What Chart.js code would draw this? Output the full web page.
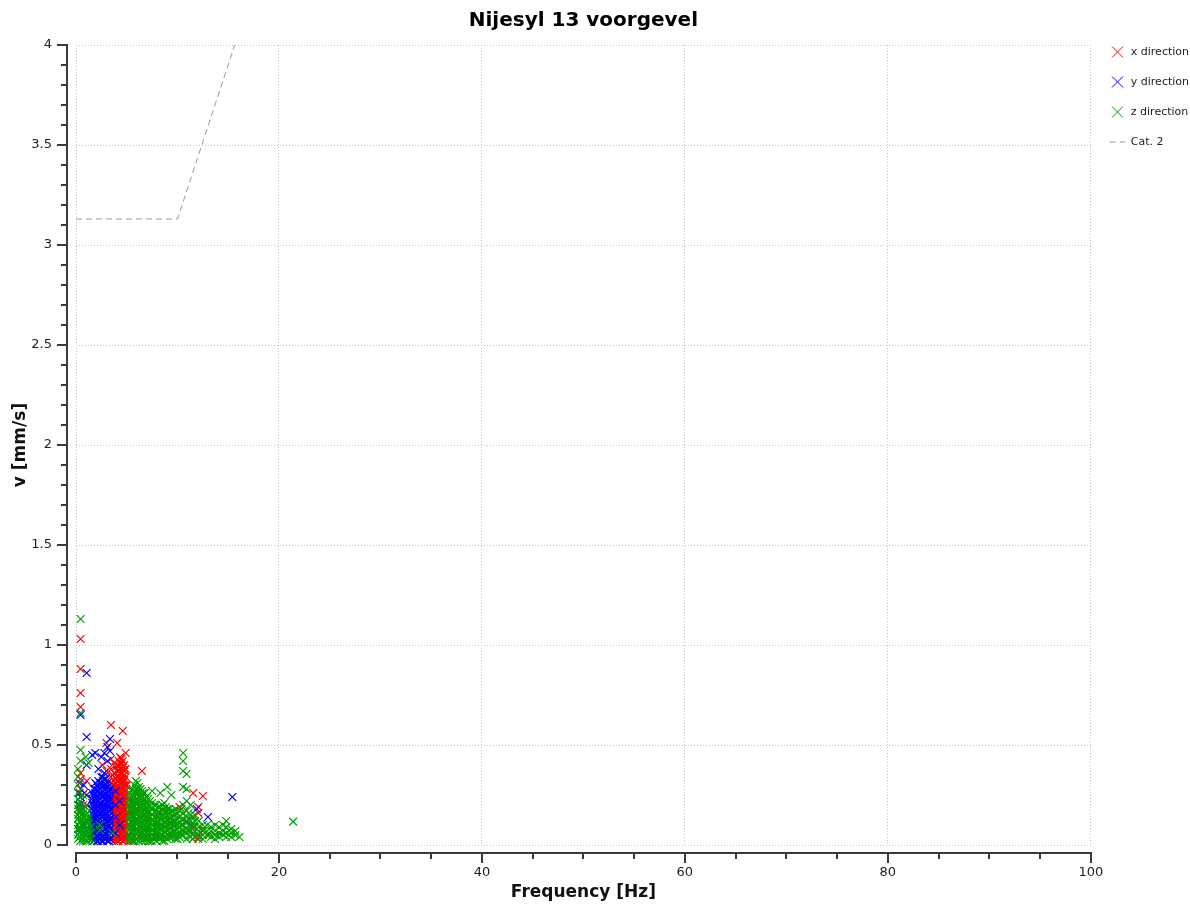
<!DOCTYPE html>
<html lang="nl">
<head>
<meta charset="UTF-8">
<title>Nijesyl 13 voorgevel</title>
<script src="https://cdn.jsdelivr.net/npm/chart.js"></script>
<style>
  body { margin: 0; background: #fff; }
  canvas { display: block; }
</style>
</head>
<body>
<canvas id="chart" width="1190" height="905"></canvas>
<script>
// each row: [frequency Hz, [velocities mm/s at that frequency]]
const xDirection = [
  [0.45, [1.03, 0.88, 0.76, 0.69, 0.36, 0.33, 0.28, 0.24, 0.18, 0.12]],
  [0.8, [0.26, 0.14, 0.06]],
  [1.05, [0.32, 0.2]],
  [1.7, [0.12, 0.06]],
  [2.6, [0.4, 0.18]],
  [3.0, [0.51, 0.37, 0.3, 0.22, 0.12]],
  [3.45, [0.6, 0.43, 0.38, 0.34, 0.31, 0.28, 0.25, 0.22, 0.2, 0.17, 0.14, 0.12, 0.09, 0.06, 0.03]],
  [3.6, [0.35, 0.29, 0.26, 0.235, 0.21, 0.185, 0.16, 0.135, 0.11, 0.085, 0.06, 0.035]],
  [3.75, [0.41, 0.36, 0.32, 0.3, 0.27, 0.25, 0.22, 0.2, 0.17, 0.15, 0.12, 0.1, 0.07, 0.05, 0.02]],
  [3.9, [0.39, 0.335, 0.31, 0.285, 0.26, 0.235, 0.21, 0.185, 0.16, 0.135, 0.11, 0.085, 0.06, 0.035]],
  [4.05, [0.51, 0.4, 0.37, 0.34, 0.32, 0.29, 0.27, 0.24, 0.22, 0.19, 0.17, 0.14, 0.12, 0.09, 0.07, 0.04, 0.02]],
  [4.2, [0.42, 0.395, 0.37, 0.345, 0.32, 0.295, 0.27, 0.245, 0.22, 0.195, 0.17, 0.145, 0.12, 0.095, 0.07, 0.045, 0.02]],
  [4.35, [0.44, 0.41, 0.38, 0.36, 0.33, 0.31, 0.28, 0.26, 0.23, 0.21, 0.18, 0.16, 0.13, 0.11, 0.08, 0.06, 0.03]],
  [4.48, [0.43, 0.405, 0.38, 0.355, 0.33, 0.305, 0.28, 0.255, 0.23, 0.205, 0.18, 0.155, 0.13, 0.105, 0.08, 0.055, 0.03]],
  [4.6, [0.57, 0.42, 0.39, 0.36, 0.34, 0.31, 0.29, 0.26, 0.24, 0.21, 0.19, 0.16, 0.14, 0.11, 0.09, 0.06, 0.04, 0.02]],
  [4.75, [0.4, 0.375, 0.35, 0.325, 0.3, 0.275, 0.25, 0.225, 0.2, 0.175, 0.15, 0.125, 0.1, 0.075, 0.05, 0.025]],
  [4.9, [0.46, 0.38, 0.34, 0.3, 0.27, 0.24, 0.21, 0.18, 0.15, 0.12, 0.09, 0.06, 0.03]],
  [5.05, [0.3, 0.25, 0.2, 0.15, 0.1, 0.05]],
  [5.2, [0.22, 0.16, 0.1, 0.05, 0.02]],
  [6.5, [0.37]],
  [7.3, [0.11]],
  [8.1, [0.16]],
  [9.3, [0.13]],
  [10.2, [0.19]],
  [11.55, [0.26, 0.09]],
  [12.05, [0.19, 0.16, 0.05, 0.03]],
  [12.5, [0.245, 0.07]],
  [13.1, [0.05]]
];
const yDirection = [
  [0.35, [0.31, 0.26, 0.2, 0.14, 0.08]],
  [0.45, [0.65, 0.24]],
  [0.75, [0.3, 0.18, 0.1]],
  [1.05, [0.86, 0.54, 0.4, 0.25]],
  [1.6, [0.45, 0.26, 0.23, 0.21, 0.18, 0.16, 0.13, 0.11, 0.08, 0.06, 0.03]],
  [1.75, [0.28, 0.245, 0.22, 0.195, 0.17, 0.145, 0.12, 0.095, 0.07, 0.045, 0.02]],
  [1.9, [0.46, 0.31, 0.28, 0.26, 0.23, 0.21, 0.18, 0.16, 0.13, 0.11, 0.08, 0.06, 0.03]],
  [2.05, [0.3, 0.27, 0.245, 0.22, 0.195, 0.17, 0.145, 0.12, 0.095, 0.07, 0.045, 0.02]],
  [2.2, [0.38, 0.32, 0.29, 0.27, 0.24, 0.22, 0.19, 0.17, 0.14, 0.12, 0.09, 0.07, 0.04, 0.02]],
  [2.35, [0.31, 0.28, 0.255, 0.23, 0.205, 0.18, 0.155, 0.13, 0.105, 0.08, 0.055, 0.03]],
  [2.5, [0.44, 0.34, 0.31, 0.29, 0.26, 0.24, 0.21, 0.19, 0.16, 0.14, 0.11, 0.09, 0.06, 0.04, 0.02]],
  [2.65, [0.34, 0.32, 0.295, 0.27, 0.245, 0.22, 0.195, 0.17, 0.145, 0.12, 0.095, 0.07, 0.045, 0.02]],
  [2.8, [0.46, 0.36, 0.33, 0.3, 0.28, 0.25, 0.23, 0.2, 0.18, 0.15, 0.13, 0.1, 0.08, 0.05, 0.03]],
  [2.95, [0.33, 0.305, 0.28, 0.255, 0.23, 0.205, 0.18, 0.155, 0.13, 0.105, 0.08, 0.055, 0.03]],
  [3.1, [0.49, 0.42, 0.31, 0.29, 0.26, 0.24, 0.21, 0.19, 0.16, 0.14, 0.11, 0.09, 0.06, 0.04, 0.02]],
  [3.25, [0.27, 0.245, 0.22, 0.195, 0.17, 0.145, 0.12, 0.095, 0.07, 0.045, 0.02]],
  [3.35, [0.53, 0.47, 0.28, 0.23, 0.18, 0.13, 0.08, 0.03]],
  [3.9, [0.27, 0.2, 0.14, 0.06]],
  [4.3, [0.22, 0.1]],
  [6.6, [0.08]],
  [8.0, [0.09]],
  [9.4, [0.11]],
  [10.9, [0.12]],
  [11.9, [0.18]],
  [13.0, [0.14]],
  [15.4, [0.24]]
];
const zDirection = [
  [0.2, [0.38, 0.34, 0.3, 0.26, 0.23, 0.2, 0.18, 0.15, 0.13, 0.1, 0.08, 0.05, 0.03]],
  [0.35, [0.215, 0.19, 0.165, 0.14, 0.115, 0.09, 0.065, 0.04]],
  [0.45, [1.13, 0.66, 0.475, 0.42, 0.17, 0.12, 0.07, 0.02]],
  [0.6, [0.185, 0.15, 0.125, 0.1, 0.075, 0.05, 0.03]],
  [0.7, [0.25, 0.2, 0.16, 0.14, 0.11, 0.09, 0.06, 0.04, 0.02]],
  [0.95, [0.44, 0.19, 0.15, 0.12, 0.1, 0.07, 0.05, 0.02]],
  [1.1, [0.16, 0.13, 0.09, 0.065, 0.04, 0.02]],
  [1.25, [0.41, 0.14, 0.11, 0.08, 0.06, 0.03]],
  [1.5, [0.09, 0.06, 0.03]],
  [2.35, [0.1, 0.075]],
  [3.6, [0.06]],
  [5.3, [0.26, 0.23, 0.2, 0.18, 0.15, 0.13, 0.1, 0.08, 0.05, 0.03]],
  [5.45, [0.27, 0.24, 0.215, 0.19, 0.165, 0.14, 0.115, 0.09, 0.065, 0.04, 0.02]],
  [5.6, [0.28, 0.25, 0.22, 0.2, 0.17, 0.15, 0.12, 0.1, 0.07, 0.05, 0.02]],
  [5.75, [0.3, 0.265, 0.24, 0.215, 0.19, 0.165, 0.14, 0.115, 0.09, 0.065, 0.04, 0.02]],
  [5.9, [0.32, 0.28, 0.26, 0.23, 0.21, 0.18, 0.16, 0.13, 0.11, 0.08, 0.06, 0.03]],
  [6.05, [0.31, 0.28, 0.255, 0.23, 0.205, 0.18, 0.155, 0.13, 0.105, 0.08, 0.055, 0.03]],
  [6.2, [0.29, 0.27, 0.24, 0.22, 0.19, 0.17, 0.14, 0.12, 0.09, 0.07, 0.04, 0.02]],
  [6.35, [0.28, 0.255, 0.23, 0.205, 0.18, 0.155, 0.13, 0.105, 0.08, 0.055, 0.03]],
  [6.5, [0.27, 0.24, 0.21, 0.19, 0.16, 0.14, 0.11, 0.09, 0.06, 0.04, 0.02]],
  [6.65, [0.26, 0.225, 0.2, 0.175, 0.15, 0.125, 0.1, 0.075, 0.05, 0.03]],
  [6.8, [0.26, 0.23, 0.2, 0.17, 0.15, 0.12, 0.1, 0.07, 0.05, 0.02]],
  [6.95, [0.24, 0.215, 0.19, 0.165, 0.14, 0.115, 0.09, 0.065, 0.04]],
  [7.1, [0.23, 0.2, 0.17, 0.14, 0.12, 0.09, 0.07, 0.04, 0.02]],
  [7.3, [0.22, 0.19, 0.165, 0.14, 0.115, 0.09, 0.065, 0.04, 0.02]],
  [7.5, [0.27, 0.21, 0.18, 0.15, 0.12, 0.1, 0.07, 0.05, 0.02]],
  [7.7, [0.2, 0.165, 0.14, 0.115, 0.09, 0.065, 0.04]],
  [7.9, [0.2, 0.17, 0.14, 0.11, 0.09, 0.06, 0.04, 0.02]],
  [8.1, [0.19, 0.165, 0.14, 0.115, 0.09, 0.065, 0.04]],
  [8.3, [0.26, 0.19, 0.16, 0.13, 0.1, 0.08, 0.05, 0.03]],
  [8.5, [0.2, 0.175, 0.15, 0.125, 0.1, 0.075, 0.05, 0.02]],
  [8.7, [0.21, 0.18, 0.15, 0.12, 0.09, 0.07, 0.04, 0.02]],
  [8.85, [0.19, 0.165, 0.14, 0.115, 0.09, 0.065, 0.04]],
  [9.0, [0.29, 0.18, 0.15, 0.12, 0.1, 0.07, 0.05, 0.03]],
  [9.2, [0.18, 0.16, 0.135, 0.11, 0.085, 0.06, 0.04]],
  [9.4, [0.25, 0.17, 0.14, 0.11, 0.09, 0.06, 0.04]],
  [9.6, [0.17, 0.145, 0.12, 0.095, 0.07, 0.045]],
  [9.8, [0.18, 0.15, 0.12, 0.1, 0.07, 0.05, 0.03]],
  [10.0, [0.16, 0.13, 0.105, 0.08, 0.055, 0.03]],
  [10.2, [0.17, 0.14, 0.11, 0.09, 0.06, 0.04]],
  [10.4, [0.18, 0.125, 0.1, 0.075, 0.05]],
  [10.55, [0.46, 0.42, 0.37, 0.29, 0.2, 0.16, 0.13, 0.1, 0.07, 0.05]],
  [10.9, [0.355, 0.28, 0.22, 0.17, 0.14, 0.11, 0.08, 0.06, 0.03]],
  [11.1, [0.16, 0.13, 0.1, 0.075, 0.05]],
  [11.3, [0.2, 0.15, 0.12, 0.09, 0.07, 0.04]],
  [11.5, [0.14, 0.105, 0.08, 0.055, 0.03]],
  [11.7, [0.15, 0.12, 0.09, 0.07, 0.04]],
  [12.1, [0.12, 0.09, 0.07, 0.04]],
  [12.5, [0.1, 0.08, 0.05, 0.03]],
  [12.9, [0.1, 0.07, 0.05]],
  [13.3, [0.09, 0.07, 0.04]],
  [13.7, [0.1, 0.07, 0.05, 0.03]],
  [14.1, [0.09, 0.06, 0.04]],
  [14.5, [0.1, 0.07, 0.05]],
  [14.8, [0.12, 0.09, 0.06, 0.04]],
  [15.3, [0.08, 0.06, 0.04]],
  [15.7, [0.07, 0.05]],
  [16.1, [0.04]],
  [21.4, [0.117]]
];
// Cat. 2 limit line
const catFreq = [0, 10, 50];
const catVel = [3.13, 3.13, 9.3];

const toPoints = rows => rows.flatMap(([f, vs]) => vs.map(v => ({x: f, y: v})));

const FONT = 'DejaVu Sans';
const RED = 'rgb(255,0,0)';
const BLUE = 'rgb(0,0,255)';
const GREEN = 'rgb(0,160,0)';
const GREY = '#9a9a9a';

function scatterSet(label, rows, color, order) {
  return {
    label: label,
    data: toPoints(rows),
    order: order,
    showLine: false,
    pointStyle: 'crossRot',
    pointRadius: 5.5,
    pointHoverRadius: 5.5,
    pointBorderWidth: 1.2,
    pointBorderColor: color,
    pointBackgroundColor: color,
    borderColor: color,
    clip: false
  };
}

// axis lines with major/minor tick marks, offset from the plot area
const axisFrame = {
  id: 'axisFrame',
  afterDraw(chart) {
    const {ctx, chartArea: a, scales: {x, y}} = chart;
    ctx.save();
    ctx.strokeStyle = '#3a3a3a';
    ctx.lineWidth = 2;
    ctx.beginPath();
    const ax = a.left - 9;
    ctx.moveTo(ax, y.getPixelForValue(4));
    ctx.lineTo(ax, y.getPixelForValue(0) + 1);
    for (let i = 0; i <= 40; i++) {
      const py = Math.round(y.getPixelForValue(i / 10));
      const len = i % 5 === 0 ? 10 : 6;
      ctx.moveTo(ax + 1, py);
      ctx.lineTo(ax - len, py);
    }
    const ay = a.bottom + 8;
    ctx.moveTo(x.getPixelForValue(0) - 1, ay);
    ctx.lineTo(x.getPixelForValue(100) + 1, ay);
    for (let i = 0; i <= 20; i++) {
      const px = Math.round(x.getPixelForValue(i * 5));
      const len = i % 4 === 0 ? 10 : 6;
      ctx.moveTo(px, ay - 1);
      ctx.lineTo(px, ay + len);
    }
    ctx.stroke();
    ctx.restore();
  }
};

new Chart(document.getElementById('chart'), {
  type: 'scatter',
  data: {
    datasets: [
      scatterSet('x direction', xDirection, RED, 3),
      scatterSet('y direction', yDirection, BLUE, 2),
      scatterSet('z direction', zDirection, GREEN, 1),
      {
        label: 'Cat. 2',
        data: catFreq.map((f, i) => ({x: f, y: catVel[i]})),
        order: 4,
        showLine: true,
        borderColor: GREY,
        borderWidth: 1,
        borderDash: [6, 4],
        pointRadius: 0,
        pointHoverRadius: 0,
        fill: false
      }
    ]
  },
  options: {
    responsive: false,
    animation: false,
    devicePixelRatio: 1,
    layout: { padding: { right: -9 } },
    plugins: {
      tooltip: { enabled: false },
      title: {
        display: true,
        text: 'Nijesyl 13 voorgevel',
        fullSize: false,
        color: '#000',
        font: { family: FONT, size: 20, weight: 'bold' },
        padding: { top: 9, bottom: 12 }
      },
      legend: {
        position: 'right',
        align: 'start',
        fullSize: true,
        title: { display: true, text: '', padding: { top: 15.5, bottom: 0 }, font: { size: 10 } },
        labels: {
          usePointStyle: true,
          pointStyleWidth: 15.5,
          padding: 19,
          color: '#222',
          font: { family: FONT, size: 11 },
          generateLabels: chart => chart.data.datasets.map((ds, i) => ({
            text: ds.label,
            datasetIndex: i,
            hidden: false,
            fillStyle: 'rgba(0,0,0,0)',
            strokeStyle: ds.borderColor,
            lineWidth: 1,
            lineDash: ds.borderDash || [],
            pointStyle: ds.showLine ? 'line' : 'crossRot',
            fontColor: '#222'
          }))
        }
      }
    },
    scales: {
      x: {
        type: 'linear',
        min: 0,
        max: 100,
        afterFit: s => { s.height = 60; },
        ticks: { stepSize: 20, padding: 20, color: '#222', font: { family: FONT, size: 13 } },
        grid: { color: '#c4c4c4', lineWidth: 1, drawTicks: false },
        border: { display: false, dash: [1, 2] },
        title: {
          display: true,
          text: 'Frequency [Hz]',
          color: '#111',
          font: { family: FONT, size: 17, weight: 'bold' },
          padding: { top: 0, bottom: 2 }
        }
      },
      y: {
        type: 'linear',
        min: 0,
        max: 4,
        afterFit: s => { s.width = 76; },
        ticks: { stepSize: 0.5, padding: 24, color: '#222', font: { family: FONT, size: 13 }, callback: v => String(v) },
        grid: { color: '#c4c4c4', lineWidth: 1, drawTicks: false },
        border: { display: false, dash: [1, 2] },
        title: {
          display: true,
          text: 'v [mm/s]',
          color: '#111',
          font: { family: FONT, size: 17, weight: 'bold' },
          padding: { top: 10, bottom: 0 }
        }
      }
    }
  },
  plugins: [axisFrame]
});
</script>
</body>
</html>
